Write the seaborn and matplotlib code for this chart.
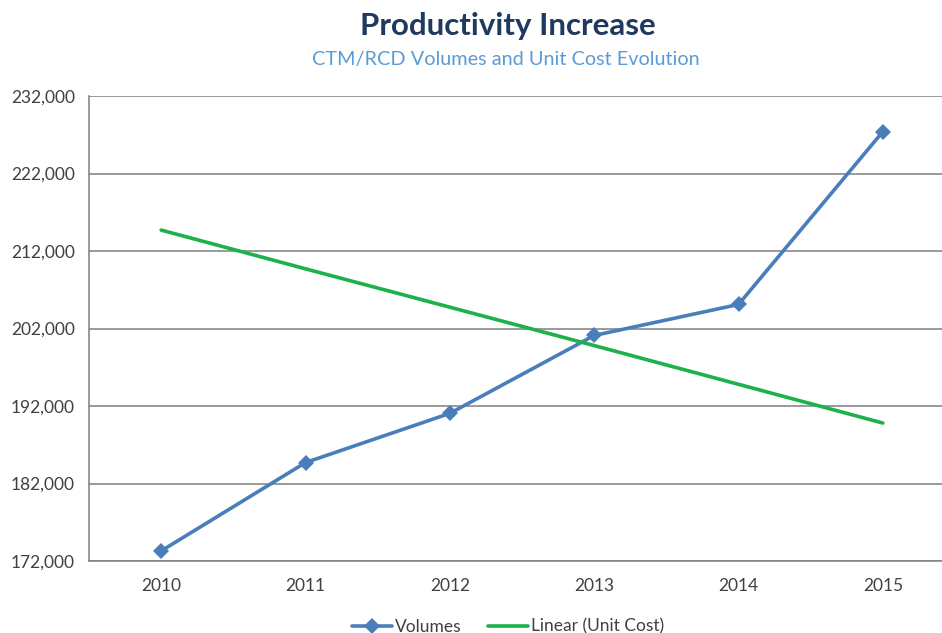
import matplotlib
matplotlib.use('Agg')
import matplotlib.pyplot as plt
import seaborn as sns
import pandas as pd

# datos
years = ['2010', '2011', '2012', '2013', '2014', '2015']
volumes = [173300, 184700, 191050, 201100, 205100, 227400]
unit_cost_trend = [214700, 209700, 204750, 199800, 194800, 189800]
y_ticks = [172000, 182000, 192000, 202000, 212000, 222000, 232000]

df = pd.DataFrame({'year': years, 'Volumes': volumes, 'Linear (Unit Cost)': unit_cost_trend})

sns.set_style('white')
plt.rcParams['font.family'] = ['Lato', 'DejaVu Sans']

fig = plt.figure(figsize=(9.42, 6.33), dpi=100)
ax = fig.add_axes([89 / 942, 72 / 633, 866 / 942, 465 / 633])

sns.lineplot(data=df, x='year', y='Volumes', ax=ax, color='#4A7EBB', linewidth=2.6,
             marker='D', markersize=8, markeredgewidth=0, label='Volumes', sort=False)
sns.lineplot(data=df, x='year', y='Linear (Unit Cost)', ax=ax, color='#1DB04B',
             linewidth=2.6, label='Linear (Unit Cost)', sort=False)

ax.set_xlim(-0.5, 5.5)
ax.set_ylim(172000, 232000)
ax.set_yticks(y_ticks)
ax.set_yticklabels([f'{v:,}' for v in y_ticks])
ax.set_xlabel('')
ax.set_ylabel('')
ax.yaxis.grid(True, color='#7F7F7F', linewidth=1.1)
ax.set_axisbelow(True)
ax.tick_params(axis='both', length=0, labelsize=12.5, colors='#404040')
ax.tick_params(axis='x', pad=12)
ax.tick_params(axis='y', pad=10)
for s in ['top', 'right']:
    ax.spines[s].set_visible(False)
for s in ['left', 'bottom']:
    ax.spines[s].set_color('#7F7F7F')
    ax.spines[s].set_linewidth(1.1)

ax.legend(loc='upper center', bbox_to_anchor=((508 - 89) / 866, -0.09), ncol=2, frameon=False,
          fontsize=12.5, handlelength=2.3, handletextpad=0.2, columnspacing=1.5,
          labelcolor='#404040')

fig.text(508 / 942, 1 - 26 / 633, 'Productivity Increase', ha='center', va='center',
         fontsize=22.5, fontweight='bold', color='#1F3A5F')
fig.text(506 / 942, 1 - 60 / 633, 'CTM/RCD Volumes and Unit Cost Evolution', ha='center',
         va='center', fontsize=14.3, color='#5B9BD5')

fig.savefig('out.png', dpi=100)
